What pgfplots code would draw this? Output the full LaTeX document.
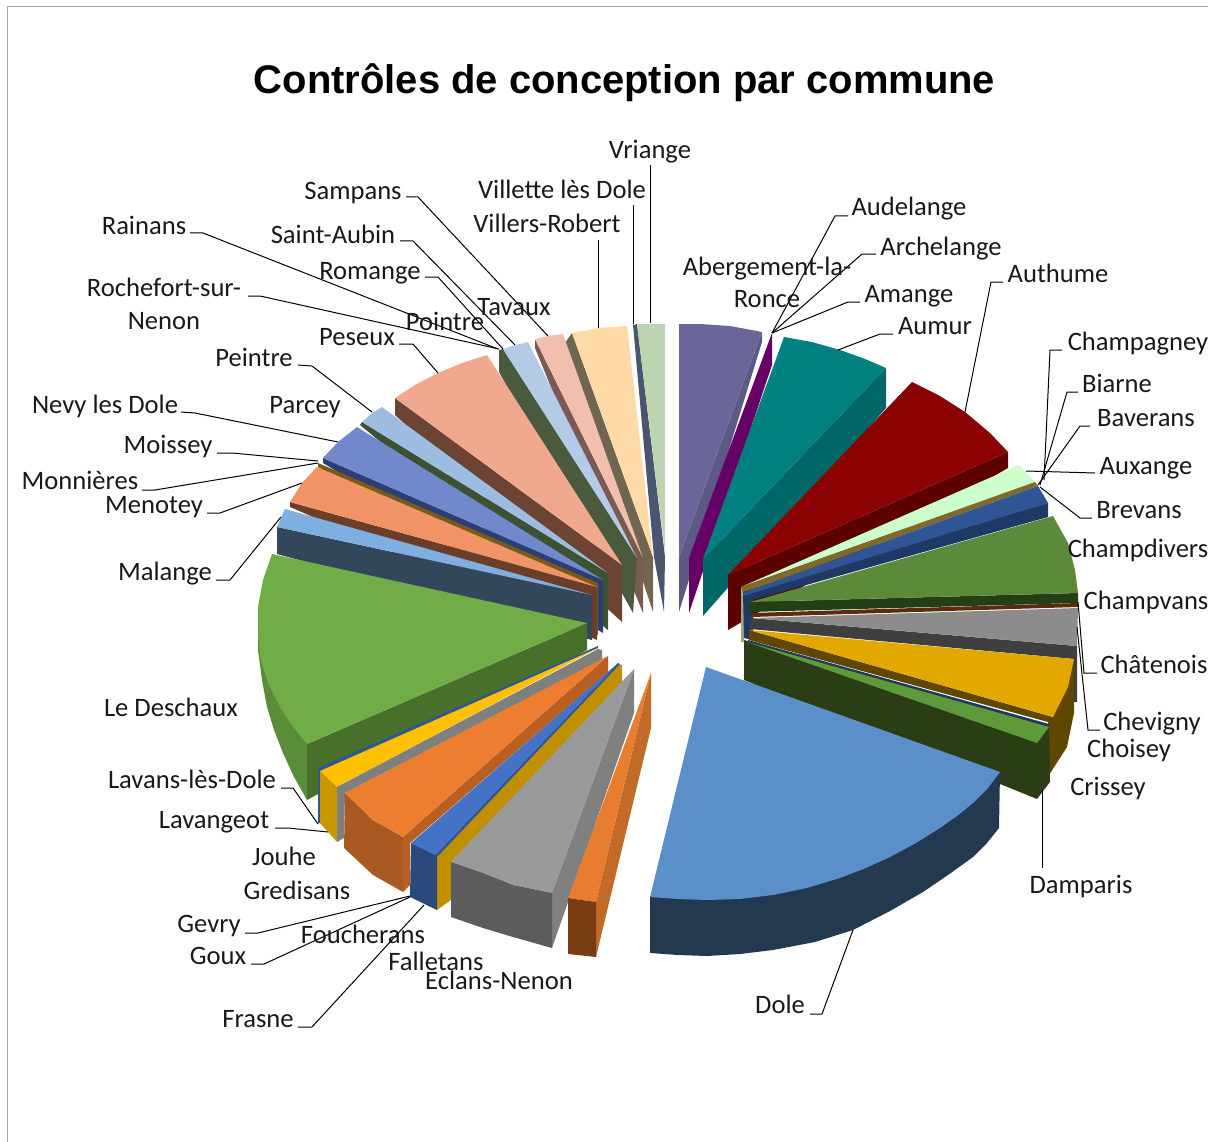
\documentclass[border=0pt]{standalone}
\usepackage{fontspec}
\setmainfont{Carlito}
\newfontfamily\titlefont{Liberation Sans}
\usepackage{pgfplots}
\pgfplotsset{compat=1.18}

% one filled polygon of the pie, in picture pixels
\newcommand{\face}[2]{\definecolor{c#1}{HTML}{#1}\addplot[fill=c#1,draw=none,forget plot] coordinates {#2};}
% one leader line
\newcommand{\lead}[1]{\addplot[black,line width=1bp,forget plot] coordinates {#1};}
\newcommand{\lab}[2]{\node[font=\fontsize{26.7}{32}\selectfont,inner sep=0pt,text=black!90,text height=0.64em,text depth=0pt,yshift=-5bp] at (axis cs:#1) {#2};}

\begin{document}
\begin{tikzpicture}
\useasboundingbox (0,0) rectangle (1208bp,1142bp);
\clip (0,0) rectangle (1208bp,1142bp);
\begin{axis}[
    at={(0,0)},anchor=south west,
    scale only axis,width=1208bp,height=1142bp,
    xmin=0,xmax=1208,ymin=0,ymax=1142,y dir=reverse,
    axis lines=none,clip=false,no markers
    ]
\addplot[color=black!35,line width=1bp,forget plot] coordinates {(7,1142)(7,7)(1208,7)};

% left half, from the top going anticlockwise
\face{4A5570}{(633,325)(637,324)(665,557)(664,612)(654,557)}
\face{BCD5B0}{(637,324)(665,324)(665,552)}
\face{6E6650}{(572,333)(565,343)(653,612)(653,557)}
\face{FFD9A6}{(572,333)(598,328)(627,326)(653,557)}
\face{7A5A52}{(535,339)(535,348)(643,613)(643,558)}
\face{F2BFAE}{(535,339)(548,336)(563,334)(643,558)}
\face{4A5A3D}{(503,349)(499,350)(499,372)(633,613)(637,558)}
\face{B4CBE8}{(503,349)(515,345)(528,342)(637,558)}
\face{6B4433}{(395,398)(395,415)(622,622)(622,565)}
\face{F0A98E}{(487,355)(462,363)(438,373)(415,385)(395,398)(622,565)}
\face{3D5233}{(362,422)(360,425)(608,630)(608,573)}
\face{9DBCE2}{(382,407)(372,413)(362,422)(608,573)}
\face{2C3E73}{(323,458)(323,463)(603,633)(603,580)}
\face{7189CC}{(357,427)(338,442)(323,458)(603,580)}
\face{7A5A18}{(318,463)(318,467)(598,635)(598,583)}
\face{6B3E2A}{(290,502)(290,507)(597,640)(597,587)}
\face{F09468}{(317,467)(302,483)(290,502)(597,587)}
\face{33475B}{(277,527)(277,554)(592,640)(592,595)}
\face{7FAEE0}{(285,509)(277,527)(592,595)}
% Le Deschaux
\face{5B8C3A}{(258,607)(258,650)(262,680)(267,707)(274,730)(283,753)(294,777)(307,800)(307,744)}
\face{48702B}{(587,623)(587,650)(307,800)(307,744)}
\face{70AD47}{(272,554)(587,623)(307,744)(293,727)(280,707)(268,683)(260,657)(258,630)(258,607)(263,580)}

% right half, from the top going clockwise
\face{5C5A85}{(762,332)(762,342)(679,612)(679,557)}
\face{6A6699}{(679,324)(700,324)(730,326)(762,332)(679,557)}
\face{660066}{(772,333)(772,365)(689,613)(689,558)}
\face{006666}{(886,368)(886,408)(703,616)(703,559)}
\face{008080}{(784,337)(812,342)(840,350)(865,359)(886,368)(703,559)}
\face{5C0000}{(1008,452)(1008,468)(728,630)(728,575)}
\face{8B0000}{(912,382)(940,396)(965,412)(990,433)(1008,452)(728,575)}
\face{9CA77A}{(741,587)(741,642)(744,642)(746,595)}
\face{CCFFCC}{(1019,465)(1035,482)(741,587)}
\face{7F6A2A}{(1035,482)(1038,486)(743,593)(741,587)}
\face{1F3864}{(1048,503)(1048,517)(753,600)(753,640)(744,638)(743,592)}
\face{2F5597}{(1038,486)(1048,503)(743,596)(743,593)}
\face{243F16}{(1078,593)(1078,603)(749,612)(750,602)}
\face{5A8A3A}{(1053,516)(1068,543)(1075,570)(1078,593)(750,602)}
\face{5C2A0C}{(1078,603)(1078,607)(752,617)(751,613)}
\face{3F3F3F}{(1077,646)(1077,702)(1073,702)(1074,659)(750,629)(751,618)}
\face{8C8C8C}{(1078,608)(1077,646)(752,618)}
\face{5F4700}{(749,630)(1053,717)(1074,659)(1074,713)(1067,747)(1049,775)(1048,722)(749,640)}
\face{E2A800}{(749,630)(1074,659)(1068,687)(1053,717)}
\face{2A3D14}{(744,640)(1049,726)(1050,782)(1037,799)(744,680)}
\face{1F3864}{(748,640)(1049,724)(1049,727)(748,642)}
\face{5F9A3A}{(747,642)(1049,727)(1037,743)}

% lower half, from Lavans round to Dole
\face{2F5597}{(598,646)(598,648)(320,771)(320,823)(318,823)(318,768)}
\face{C99700}{(320,771)(337,787)(337,842)(320,823)}
\face{FFC000}{(598,648)(337,787)(320,771)}
\face{7F7F7F}{(598,649)(602,650)(602,660)(345,793)(344,838)(337,842)(337,787)}
\face{A85A22}{(345,793)(373,820)(403,837)(403,892)(373,875)(344,848)}
\face{B85F21}{(608,656)(608,672)(410,843)(410,885)(403,892)(403,837)}
\face{ED7D31}{(608,656)(403,837)(373,820)(345,793)}
\face{BF8F00}{(618,664)(622,665)(622,684)(451,862)(451,900)(437,910)(435,856)}
\face{2A4A7C}{(411,843)(437,855)(437,910)(410,897)}
\face{2F5597}{(620,664)(438,856)(435,855)(618,663)}
\face{4472C4}{(618,663)(435,855)(411,843)}
\face{808080}{(634,669)(634,713)(552,948)(552,893)}
\face{9A9A9A}{(634,669)(552,893)(513,885)(483,873)(451,862)}
\face{5C5C5C}{(451,862)(483,873)(513,885)(552,893)(552,948)(513,937)(483,928)(451,917)}
\face{C26A28}{(651,673)(651,728)(596,957)(596,902)}
\face{E87D30}{(651,673)(596,902)(568,898)}
\face{7A3C12}{(568,898)(596,902)(596,957)(568,954)}
\face{22394F}{(1000,772)(999,828)(987,843)(973,857)(948,875)(923,892)(890,911)(853,930)(815,942)(773,950)(740,954)(707,956)(678,955)(650,953)(650,897)}
\face{5B8FC9}{(706,667)(1000,772)(988,788)(973,803)(957,816)(940,828)(916,843)(890,857)(866,868)(840,878)(807,888)(773,895)(740,899)(707,900)(678,899)(650,897)}

% leader lines
\lead{(650,165)(650,323)}
\lead{(633,205)(633,324)}
\lead{(598,240)(598,328)}
\lead{(406,197)(418,197)(548,336)}
\lead{(190,233)(203,233)(498,349)}
\lead{(400,241)(413,241)(515,345)}
\lead{(425,277)(438,277)(503,349)}
\lead{(248,296)(260,296)(499,349)}
\lead{(399,344)(413,344)(438,373)}
\lead{(298,365)(312,366)(372,412)}
\lead{(181,412)(195,413)(338,442)}
\lead{(217,453)(232,453)(318,461)}
\lead{(142,490)(155,490)(318,463)}
\lead{(207,513)(220,513)(302,483)}
\lead{(216,580)(230,580)(281,517)}
\lead{(281,788)(293,788)(318,824)}
\lead{(275,828)(288,828)(328,832)}
\lead{(245,933)(258,933)(410,896)}
\lead{(251,964)(264,964)(410,897)}
\lead{(298,1027)(312,1027)(424,905)}
\lead{(810,1014)(822,1014)(853,930)}
\lead{(1042,868)(1042,790)}
\lead{(1100,730)(1088,730)(1077,627)}
\lead{(1097,673)(1084,673)(1078,602)}
\lead{(1062,350)(1050,350)(1044,480)}
\lead{(1078,392)(1067,392)(1040,485)}
\lead{(1090,426)(1080,426)(1038,485)}
\lead{(1095,473)(1026,471)}
\lead{(1092,518)(1080,518)(1040,487)}
\lead{(1003,282)(991,282)(965,412)}
\lead{(893,334)(880,334)(838,350)}
\lead{(860,302)(848,302)(772,333)}
\lead{(876,254)(862,254)(772,333)}
\lead{(848,216)(835,216)(772,333)}

% labels
\node[font=\titlefont\bfseries\fontsize{40.1}{46}\selectfont,inner sep=0pt] at (axis cs:624.5,83) {Contrôles de conception par commune};
\lab{650,150}{Vriange}
\lab{562,190}{Villette lès Dole}
\lab{547,224}{Villers-Robert}
\lab{353,191}{Sampans}
\lab{144,226}{Rainans}
\lab{333,235}{Saint-Aubin}
\lab{370,271}{Romange}
\lab{164,288}{Rochefort-sur-}
\lab{164,321}{Nenon}
\lab{514,307}{Tavaux}
\lab{445,322}{Pointre}
\lab{357,337}{Peseux}
\lab{254,358}{Peintre}
\lab{305,405}{Parcey}
\lab{105,405}{Nevy les Dole}
\lab{168,445}{Moissey}
\lab{80,481}{Monnières}
\lab{154,505}{Menotey}
\lab{165,572}{Malange}
\lab{171,708}{Le Deschaux}
\lab{192,780}{Lavans-lès-Dole}
\lab{214,820}{Lavangeot}
\lab{284,857}{Jouhe}
\lab{297,891}{Gredisans}
\lab{209,924}{Gevry}
\lab{218,956}{Goux}
\lab{363,935}{Foucherans}
\lab{436,962}{Falletans}
\lab{499,981}{Eclans-Nenon}
\lab{258,1019}{Frasne}
\lab{780,1005}{Dole}
\lab{1081,885}{Damparis}
\lab{1108,787}{Crissey}
\lab{1129,749}{Choisey}
\lab{1152,722}{Chevigny}
\lab{1154,665}{Châtenois}
\lab{1146,601}{Champvans}
\lab{1138,549}{Champdivers}
\lab{1139,510}{Brevans}
\lab{1146,466}{Auxange}
\lab{1146,418}{Baverans}
\lab{1117,384}{Biarne}
\lab{1138,342}{Champagney}
\lab{1058,274}{Authume}
\lab{935,326}{Aumur}
\lab{909,294}{Amange}
\lab{941,247}{Archelange}
\lab{909,207}{Audelange}
\lab{767,267}{Abergement-la-}
\lab{767,299}{Ronce}
\end{axis}
\end{tikzpicture}
\end{document}
